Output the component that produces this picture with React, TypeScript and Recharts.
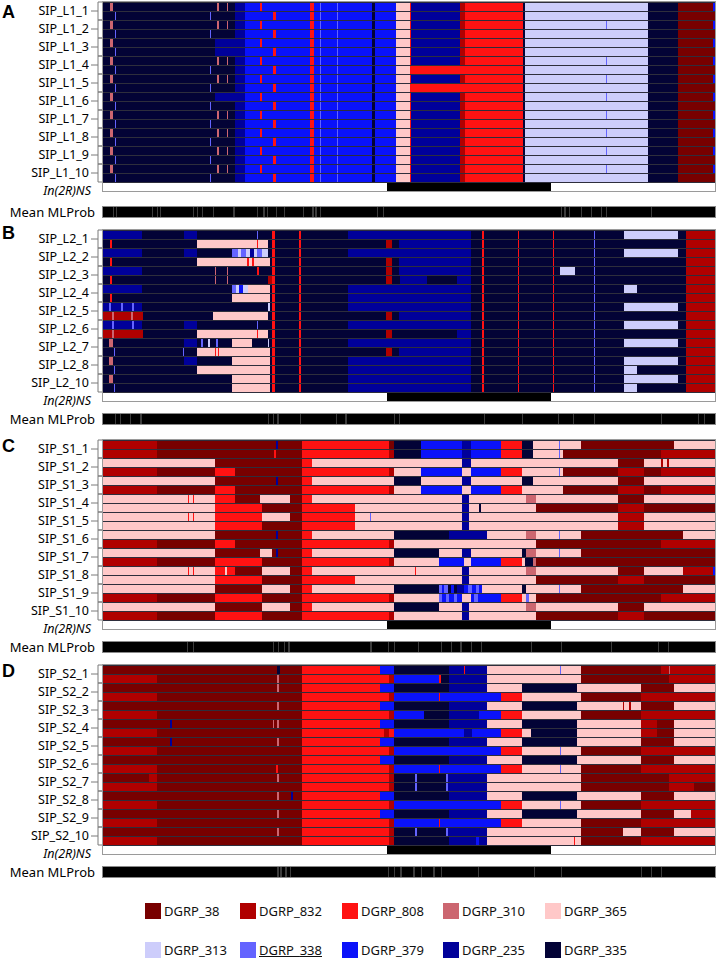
import React from "react";
import { BarChart, Bar, XAxis, YAxis, Cell, CartesianGrid } from "recharts";

// haplotype codes -> colours (legend order)
const LEGEND_ROW_1 = ["38", "832", "808", "310", "365"];
const LEGEND_ROW_2 = ["313", "338", "379", "235", "335"];
const COLORS: Record<string, string> = {
  "38": "#780000",
  "832": "#b00000",
  "808": "#ff1212",
  "310": "#cc6670",
  "365": "#ffc8c8",
  "313": "#cdcdfb",
  "338": "#6464ff",
  "379": "#0a12fa",
  "235": "#00009a",
  "335": "#030336",
  w: "#ffffff",
  k: "#000000",
  g: "#3c3c3c",
};

// segments are "haplotype:end" with end in % of the plotted 2R region
const INVERSION_LABEL = "In(2R)NS";
const INVERSION = "w:46.4 k:73.2 w:100";

// ---------- panel A ----------
const A_NAMES = ["SIP_L1_1", "SIP_L1_2", "SIP_L1_3", "SIP_L1_4", "SIP_L1_5", "SIP_L1_6", "SIP_L1_7", "SIP_L1_8", "SIP_L1_9", "SIP_L1_10"];
const A_ROWS = [
  "335:1.15 310:1.64 335:18.7 310:18.9 335:20.3 310:20.5 335:21.6 235:23.2 379:25.7 808:25.9 379:33.9 808:34.4 379:35.4 338:35.6 379:38.2 338:38.4 379:44.0 335:44.4 379:47.9 365:50.1 808:50.4 235:58.4 832:59.2 808:68.6 335:68.9 313:89.0 335:93.9 38:99.6 379:100",
  "335:1.96 338:2.2 335:17.5 338:17.7 335:21.6 235:23.2 379:27.8 808:28.2 379:33.9 808:34.4 379:35.4 338:35.6 379:38.2 338:38.4 379:44.0 335:44.4 379:47.9 365:50.1 808:50.4 235:58.4 832:59.2 808:68.6 335:68.9 313:89.0 335:93.9 38:100",
  "335:1.15 310:1.64 335:18.7 310:18.9 335:20.3 310:20.5 335:21.6 235:23.2 379:25.7 808:25.9 379:33.9 808:34.4 379:35.4 338:35.6 379:38.2 338:38.4 379:44.0 335:44.4 379:47.9 365:50.1 808:50.4 235:58.4 832:59.2 808:68.6 335:68.9 313:82.2 338:82.4 313:89.0 335:93.9 38:99.6 379:100",
  "335:1.96 338:2.2 335:17.5 338:17.7 335:21.6 235:23.2 379:27.8 808:28.2 379:33.9 808:34.4 379:35.4 338:35.6 379:38.2 338:38.4 379:44.0 335:44.4 379:47.9 365:50.1 808:50.4 235:58.4 832:59.2 808:68.6 335:68.9 313:89.0 335:93.9 38:100",
  "335:1.15 310:1.64 335:18.3 235:23.2 379:25.7 808:25.9 379:33.9 808:34.4 379:35.4 338:35.6 379:38.2 338:38.4 379:44.0 335:44.4 379:47.9 365:50.1 808:50.4 235:58.4 832:59.2 808:68.6 335:68.9 313:89.0 335:93.9 38:99.6 379:100",
  "335:1.96 338:2.2 335:18.3 235:23.2 379:27.8 808:28.2 379:33.9 808:34.4 379:35.4 338:35.6 379:38.2 338:38.4 379:44.0 335:44.4 379:47.9 365:50.1 808:50.4 235:58.4 832:59.2 808:68.6 335:68.9 313:89.0 335:93.9 38:100",
  "335:1.15 310:1.64 335:18.7 310:18.9 335:20.3 310:20.5 335:21.6 235:23.2 379:25.7 808:25.9 379:33.9 808:34.4 379:35.4 338:35.6 379:38.2 338:38.4 379:44.0 335:44.4 379:47.9 365:50.1 808:50.4 235:58.4 832:59.2 808:68.6 335:68.9 313:82.2 338:82.4 313:89.0 335:93.9 38:99.6 379:100",
  "335:1.96 338:2.2 335:17.5 338:17.7 335:21.6 235:23.2 379:27.8 808:28.2 379:33.9 808:34.4 379:35.4 338:35.6 379:38.2 338:38.4 379:44.0 335:44.4 379:47.9 365:50.1 808:59.2 808:68.6 335:68.9 313:89.0 335:93.9 38:100",
  "335:1.15 310:1.64 335:18.7 310:18.9 335:20.3 310:20.5 335:21.6 235:23.2 379:25.7 808:25.9 379:33.9 808:34.4 379:35.4 338:35.6 379:38.2 338:38.4 379:44.0 335:44.4 379:47.9 365:50.1 808:50.4 235:58.4 832:59.2 808:68.6 335:68.9 313:82.2 338:82.4 313:89.0 335:93.9 38:99.6 379:100",
  "335:1.96 338:2.2 335:17.5 338:17.7 335:21.6 235:23.2 379:27.8 808:28.2 379:33.9 808:34.4 379:35.4 338:35.6 379:38.2 338:38.4 379:44.0 335:44.4 379:47.9 365:50.1 808:59.2 808:68.6 335:68.9 313:89.0 335:93.9 38:100",
  "335:1.15 310:1.64 335:18.3 235:23.2 379:25.7 808:25.9 379:33.9 808:34.4 379:35.4 338:35.6 379:38.2 338:38.4 379:44.0 335:44.4 379:47.9 365:50.1 808:50.4 235:58.4 832:59.2 808:68.6 335:68.9 313:82.2 338:82.4 313:89.0 335:93.9 38:99.6 379:100",
  "335:1.96 338:2.2 335:17.5 338:17.7 335:21.6 235:23.2 379:27.8 808:28.2 379:33.9 808:34.4 379:35.4 338:35.6 379:38.2 338:38.4 379:44.0 335:44.4 379:47.9 365:50.1 808:50.4 235:58.4 832:59.2 808:68.6 335:68.9 313:89.0 335:93.9 38:100",
  "335:1.15 310:1.64 335:18.7 310:18.9 335:20.3 310:20.5 335:21.6 235:23.2 379:25.7 808:25.9 379:33.9 808:34.4 379:35.4 338:35.6 379:38.2 338:38.4 379:44.0 335:44.4 379:47.9 365:50.1 808:50.4 235:58.4 832:59.2 808:68.6 335:68.9 313:82.2 338:82.4 313:89.0 335:93.9 38:99.6 379:100",
  "335:1.96 338:2.2 335:17.5 338:17.7 335:21.6 235:23.2 379:27.8 808:28.2 379:33.9 808:34.4 379:35.4 338:35.6 379:38.2 338:38.4 379:44.0 335:44.4 379:47.9 365:50.1 808:50.4 235:58.4 832:59.2 808:68.6 335:68.9 313:89.0 335:93.9 38:100",
  "335:1.15 310:1.64 335:18.7 310:18.9 335:20.3 310:20.5 335:21.6 235:23.2 379:25.7 808:25.9 379:33.9 808:34.4 379:35.4 338:35.6 379:38.2 338:38.4 379:44.0 335:44.4 379:47.9 365:50.1 808:50.4 235:58.4 832:59.2 808:68.6 335:68.9 313:82.2 338:82.4 313:89.0 335:93.9 38:99.6 379:100",
  "335:1.96 338:2.2 335:17.5 338:17.7 335:21.6 235:23.2 379:27.8 808:28.2 379:33.9 808:34.4 379:35.4 338:35.6 379:38.2 338:38.4 379:44.0 335:44.4 379:47.9 365:50.1 808:50.4 235:58.4 832:59.2 808:68.6 335:68.9 313:89.0 335:93.9 38:100",
  "335:1.15 310:1.64 335:18.7 310:18.9 335:20.3 310:20.5 335:21.6 235:23.2 379:25.7 808:25.9 379:33.9 808:34.4 379:35.4 338:35.6 379:38.2 338:38.4 379:44.0 335:44.4 379:47.9 365:50.1 808:50.4 235:58.4 832:59.2 808:68.6 335:68.9 313:82.2 338:82.4 313:89.0 335:93.9 38:99.6 379:100",
  "335:1.96 338:2.2 335:17.5 338:17.7 335:21.6 235:23.2 379:27.8 808:28.2 379:33.9 808:34.4 379:35.4 338:35.6 379:38.2 338:38.4 379:44.0 335:44.4 379:47.9 365:50.1 808:50.4 235:58.4 832:59.2 808:68.6 335:68.9 313:89.0 335:93.9 38:100",
  "335:1.15 310:1.64 335:18.7 310:18.9 335:20.3 310:20.5 335:21.6 235:23.2 379:25.7 808:25.9 379:33.9 808:34.4 379:35.4 338:35.6 379:38.2 338:38.4 379:44.0 335:44.4 379:47.9 365:50.1 808:50.4 235:58.4 832:59.2 808:68.6 335:68.9 313:82.2 338:82.4 313:89.0 335:93.9 38:99.6 379:100",
  "335:1.96 338:2.2 335:17.5 338:17.7 335:21.6 235:23.2 379:27.8 808:28.2 379:33.9 808:34.4 379:35.4 338:35.6 379:38.2 338:38.4 379:44.0 335:44.4 379:47.9 365:50.1 808:50.4 235:58.4 832:59.2 808:68.6 335:68.9 313:89.0 335:93.9 38:100",
];
const A_MLPROB = [1.6, 2.1, 8.0, 8.8, 9.3, 14.7, 15.4, 16.2, 18.0, 21.3, 25.2, 26.2, 26.8, 28.2, 29.5, 32.6, 34.2, 34.7, 35.5, 44.8, 45.7, 74.8, 75.4, 76.1, 78.1, 79.7, 81.3, 82.2, 89.5];

// ---------- panel B ----------
const B_NAMES = ["SIP_L2_1", "SIP_L2_2", "SIP_L2_3", "SIP_L2_4", "SIP_L2_5", "SIP_L2_6", "SIP_L2_7", "SIP_L2_8", "SIP_L2_10"];
const B_CORE = "808:28.15 335:32.1 808:32.4";
const B_MID_BLUE = "335:40.1 235:60.1";
const B_MID_RED = "335:46.3 832:47.25 335:48.3 235:60.1";
const B_MID_SPLIT = "335:46.3 832:47.25 335:48.6 235:53.0 335:57.9 235:60.1";
const B_MID_DARK = "335:46.3 832:47.25 335:57.9 235:60.1";
const B_TAIL_FULL = "335:62.0 808:62.2 335:67.8 808:68.0 335:73.5 808:73.7 335:80.2 338:80.4 335:85.2 313:93.9 335:95.2 832:100";
const B_TAIL_SHORT = "335:62.0 808:62.2 335:67.8 808:68.0 335:73.5 808:73.7 335:80.2 338:80.4 335:85.2 313:87.2 335:95.2 832:100";
const B_TAIL_NONE = "335:62.0 808:62.2 335:67.8 808:68.0 335:73.5 808:73.7 335:80.2 338:80.4 335:95.2 832:100";
const B_TAIL_MID = "335:62.0 808:62.2 335:67.8 808:68.0 335:73.5 808:73.7 335:74.7 313:77.1 335:80.2 338:80.4 335:95.2 832:100";
const B_ROWS = [
  `235:6.38 335:13.26 235:15.38 335:25.2 338:25.4 335:27.66 ${B_CORE} ${B_MID_BLUE} ${B_TAIL_FULL}`,
  `335:1.15 808:1.4 335:15.38 365:25.2 808:25.4 365:27.0 335:27.66 ${B_CORE} ${B_MID_RED} ${B_TAIL_NONE}`,
  `235:6.38 335:13.26 235:15.38 335:21.1 338:22.0 313:22.6 338:23.4 313:24.0 235:24.6 313:25.2 338:26.0 313:27.0 335:27.66 ${B_CORE} ${B_MID_BLUE} ${B_TAIL_FULL}`,
  `335:1.15 808:1.4 335:15.38 365:23.6 808:23.8 365:24.4 808:24.6 365:27.3 335:27.66 ${B_CORE} ${B_MID_RED} ${B_TAIL_NONE}`,
  `235:6.38 335:18.3 310:18.5 335:20.3 310:20.5 335:25.2 808:25.5 335:27.66 ${B_CORE} ${B_MID_RED} ${B_TAIL_MID}`,
  `335:1.15 808:1.4 335:18.3 310:18.5 335:20.3 310:20.5 335:27.0 832:27.66 ${B_CORE} ${B_MID_SPLIT} ${B_TAIL_NONE}`,
  `235:6.38 335:21.1 338:21.7 313:22.3 379:22.8 313:23.7 365:27.3 335:27.66 ${B_CORE} ${B_MID_BLUE} ${B_TAIL_SHORT}`,
  `335:1.15 808:1.4 335:21.1 365:27.3 335:27.66 ${B_CORE} ${B_MID_BLUE} ${B_TAIL_NONE}`,
  `235:1.0 338:1.3 235:3.0 338:3.3 235:4.8 338:5.1 235:6.38 335:27.0 313:27.3 335:27.66 ${B_CORE} ${B_MID_BLUE} ${B_TAIL_FULL}`,
  `832:1.5 310:1.8 832:4.6 310:4.9 832:6.55 335:18.0 365:27.0 335:27.66 ${B_CORE} ${B_MID_RED} ${B_TAIL_NONE}`,
  `235:1.5 338:1.8 235:4.8 338:5.1 235:6.38 335:13.26 235:15.38 335:25.2 338:25.4 335:27.66 ${B_CORE} ${B_MID_BLUE} ${B_TAIL_FULL}`,
  `832:1.5 310:1.8 832:6.55 335:15.38 365:25.2 808:25.4 365:27.0 335:27.66 ${B_CORE} ${B_MID_DARK} ${B_TAIL_NONE}`,
  `335:0.98 310:1.64 335:13.26 235:15.38 335:16.0 338:16.3 335:17.2 313:17.5 335:18.5 338:18.8 335:21.1 365:24.4 335:27.0 313:27.2 335:27.66 ${B_CORE} ${B_MID_BLUE} ${B_TAIL_FULL}`,
  `335:1.8 338:2.0 335:13.0 338:13.3 335:15.38 365:18.3 808:18.5 365:18.8 808:19.0 365:27.3 335:27.66 ${B_CORE} ${B_MID_RED} ${B_TAIL_NONE}`,
  `335:0.98 310:1.64 335:13.26 235:15.38 335:21.1 365:27.3 335:27.66 ${B_CORE} ${B_MID_BLUE} ${B_TAIL_FULL}`,
  `335:1.8 338:2.0 335:15.38 365:27.3 335:27.66 ${B_CORE} ${B_MID_BLUE} ${B_TAIL_SHORT}`,
  `335:0.98 310:1.64 335:21.1 365:27.3 335:27.66 ${B_CORE} ${B_MID_BLUE} ${B_TAIL_FULL}`,
  `335:1.8 338:2.0 335:21.1 365:27.3 335:27.66 ${B_CORE} ${B_MID_BLUE} ${B_TAIL_SHORT}`,
];
const B_MLPROB = [2.0, 2.8, 4.4, 6.1, 27.0, 27.8, 28.5, 32.2, 38.0, 39.6, 47.5, 48.3, 62.2, 68.4, 74.3, 76.8, 80.2, 91.2, 97.2, 98.2];

// ---------- panel C ----------
const C_NAMES = ["SIP_S1_1", "SIP_S1_2", "SIP_S1_3", "SIP_S1_4", "SIP_S1_5", "SIP_S1_6", "SIP_S1_7", "SIP_S1_8", "SIP_S1_9", "SIP_S1_10"];
const C_ROWS = [
  "832:8.84 38:28.3 235:28.6 38:32.57 808:46.7 38:47.5 335:51.9 379:58.7 235:60.1 379:65.0 808:68.5 335:70.2 365:74.5 338:74.7 365:78.1 38:93.3 365:100",
  "832:8.84 38:28.0 808:28.3 38:32.57 808:46.7 832:47.5 335:51.9 379:58.7 235:60.1 379:65.0 808:68.5 335:70.2 365:74.5 338:74.7 365:75.1 38:91.2 832:100",
  "365:18.33 38:32.57 808:34.2 365:58.7 235:60.1 365:84.1 38:88.4 365:91.2 832:91.5 365:92.2 832:92.5 365:100",
  "832:8.84 38:18.33 808:21.6 38:32.57 808:46.7 832:47.5 365:51.9 379:58.7 365:60.1 379:65.0 808:68.5 365:74.5 338:74.7 365:75.1 38:84.1 832:88.4 38:91.2 832:100",
  "365:18.33 38:28.3 235:28.6 38:32.57 808:34.2 365:47.5 335:51.9 365:58.7 235:60.1 365:68.5 335:70.2 365:84.1 38:88.4 365:100",
  "832:8.84 38:18.33 808:21.6 38:32.57 808:46.7 832:47.5 365:51.9 379:58.7 365:60.1 379:65.0 808:68.5 365:75.1 38:84.1 832:88.4 38:91.2 832:100",
  "365:13.9 808:14.1 365:14.7 808:14.9 365:18.33 808:21.6 38:25.7 365:30.6 38:32.57 808:34.2 365:58.7 235:59.8 365:69.1 310:70.7 365:84.1 38:88.4 365:100",
  "365:18.33 808:26.0 38:32.57 808:41.2 365:58.7 235:59.8 365:61.4 335:61.7 365:70.7 38:84.1 832:88.4 38:100",
  "365:13.9 808:14.1 365:14.7 808:14.9 365:18.33 808:26.0 365:30.6 38:32.57 808:41.2 365:43.6 338:43.8 365:58.7 235:59.8 365:84.1 832:88.4 365:100",
  "365:18.33 808:26.0 38:32.57 808:41.2 365:58.7 235:59.8 365:84.1 832:88.4 365:100",
  "365:18.33 38:28.3 235:28.6 38:32.57 808:34.2 365:47.5 335:56.5 235:62.8 365:69.1 310:70.7 365:74.5 338:74.7 365:78.1 38:94.7 365:100",
  "832:8.84 38:18.33 808:21.6 38:32.57 808:46.7 832:47.5 365:70.7 38:91.2 832:100",
  "365:18.33 38:25.7 365:27.66 38:28.3 235:28.6 38:32.57 808:34.2 365:47.5 335:54.9 365:58.7 235:60.1 365:68.5 335:69.1 310:70.7 365:74.5 338:74.7 365:78.1 38:100",
  "832:8.84 38:18.33 808:26.0 38:32.57 808:46.7 832:47.5 365:54.9 379:59.0 365:60.1 379:65.0 808:68.5 365:69.0 335:70.2 310:70.7 38:100",
  "365:13.9 808:14.1 365:14.7 808:14.9 365:18.33 808:19.97 365:20.3 808:21.6 38:26.0 365:30.6 38:32.57 808:34.2 365:51.0 808:51.2 365:58.7 235:59.8 365:69.1 310:70.7 365:84.1 38:88.4 365:94.7 832:99.6 379:100",
  "365:18.33 808:26.0 38:32.57 808:41.2 365:58.7 235:59.8 365:70.7 38:84.1 832:88.4 38:100",
  "365:18.33 38:26.0 365:30.6 38:32.57 808:34.2 365:47.5 335:54.9 338:55.4 379:55.8 338:56.3 335:56.8 379:57.3 335:57.9 235:59.0 379:59.6 338:60.3 379:60.9 338:61.5 379:62.0 365:68.5 335:69.1 365:74.5 338:74.7 365:78.1 38:94.7 365:100",
  "832:8.84 38:18.33 808:26.0 38:32.57 808:46.7 832:47.5 365:54.9 338:55.4 379:56.0 338:56.6 379:57.3 338:57.9 379:58.7 365:60.1 379:60.6 338:61.2 379:65.0 808:68.5 365:69.1 338:69.6 365:70.7 38:91.2 832:100",
  "365:18.33 38:26.0 365:30.6 38:32.57 808:34.2 365:47.5 335:54.9 365:58.7 235:59.8 365:69.1 310:70.7 365:84.1 38:88.4 365:100",
  "832:8.84 38:18.33 808:26.0 38:32.57 808:46.7 832:47.5 365:58.7 235:59.8 365:70.7 38:84.1 832:88.4 38:100",
];
const C_MLPROB = [13.7, 14.7, 27.8, 28.6, 29.5, 30.3, 43.7, 46.5, 47.5, 51.4, 55.2, 56.8, 58.4, 60.1, 61.7, 69.9, 74.8, 83.0, 90.7, 92.3];

// ---------- panel D ----------
const D_NAMES = ["SIP_S2_1", "SIP_S2_2", "SIP_S2_3", "SIP_S2_4", "SIP_S2_5", "SIP_S2_6", "SIP_S2_7", "SIP_S2_8", "SIP_S2_9", "SIP_S2_10"];
const D_ROWS = [
  "38:28.4 335:28.9 38:32.57 808:45.3 379:47.5 335:56.5 235:59.0 808:59.2 235:62.8 365:74.7 338:74.9 365:78.1 38:91.2 832:92.5 310:92.7 832:100",
  "832:8.84 38:28.5 310:28.7 38:32.57 808:46.7 832:47.5 379:54.9 808:55.2 335:56.5 235:62.8 365:78.1 38:92.5 832:100",
  "38:28.5 310:28.7 38:32.57 808:45.3 379:47.5 335:56.5 235:62.8 365:68.5 335:77.5 365:87.9 38:93.3 365:100",
  "832:8.84 38:32.57 808:46.7 832:47.5 379:54.9 808:55.1 379:65.0 808:68.5 365:78.1 38:87.9 832:100",
  "38:28.5 310:28.7 38:32.57 808:45.3 379:47.5 335:56.5 235:62.8 365:68.5 335:77.5 365:84.9 832:85.2 365:85.9 832:86.2 365:87.9 38:93.3 365:100",
  "832:8.84 38:32.57 808:46.7 832:47.5 379:52.4 335:56.5 235:61.4 379:65.0 808:68.5 365:78.1 38:87.9 832:100",
  "38:10.9 235:11.3 38:27.7 310:28.0 38:28.5 310:28.7 38:32.57 808:45.3 379:47.5 335:56.5 235:62.8 365:68.5 335:77.5 365:87.9 832:90.6 38:93.3 365:100",
  "832:8.84 38:32.57 808:45.9 832:46.7 808:47.5 379:59.0 235:60.3 379:65.0 808:68.5 365:69.9 335:77.5 365:87.9 832:90.6 38:93.3 365:100",
  "38:10.9 235:11.3 38:28.5 310:28.7 38:32.57 808:45.3 379:47.5 335:56.5 235:62.8 365:68.5 335:77.5 365:87.9 38:93.3 365:100",
  "832:8.84 38:32.57 808:46.7 832:47.5 379:65.0 808:68.5 365:74.7 338:74.9 365:78.1 38:87.9 832:100",
  "38:32.57 808:45.3 379:47.5 335:56.5 235:62.8 365:68.5 335:77.5 365:87.9 38:93.3 365:100",
  "832:8.84 38:28.3 808:28.6 38:32.57 808:46.7 832:47.5 379:54.9 808:55.1 379:65.0 808:68.5 365:74.7 338:74.9 365:78.1 38:87.9 832:100",
  "38:7.5 832:8.84 38:28.5 310:28.7 38:32.57 808:46.7 832:47.5 335:51.0 338:51.3 335:56.0 338:56.3 235:62.8 365:78.1 38:92.5 832:100",
  "832:8.84 38:32.57 808:46.7 832:47.5 335:51.0 338:51.3 335:56.0 338:56.3 235:62.8 365:78.1 38:92.5 832:96.6 38:100",
  "38:28.5 310:28.7 38:30.8 235:31.1 38:32.57 808:45.3 379:47.5 335:56.5 235:62.8 365:68.5 335:77.5 365:87.9 38:93.3 365:100",
  "832:8.84 38:32.57 808:46.7 832:47.5 379:65.0 808:68.5 365:74.7 338:74.9 365:78.1 38:87.9 832:100",
  "38:28.5 310:28.7 38:32.57 808:45.3 379:47.5 335:56.5 235:62.8 365:68.5 335:77.5 365:87.9 38:93.3 365:96.1 832:100",
  "832:8.84 38:32.57 808:46.7 832:47.5 379:54.9 808:55.1 379:65.0 808:68.5 365:78.1 38:87.9 832:100",
  "38:28.5 310:28.7 38:32.57 808:46.7 832:47.5 335:51.0 338:51.3 335:56.0 338:56.3 235:62.8 365:78.1 38:84.9 365:87.9 38:93.3 365:100",
  "832:8.84 38:32.57 808:46.7 832:47.5 335:56.5 235:61.0 379:61.4 235:62.8 365:77.0 808:77.2 365:78.1 38:87.9 832:100",
];
const D_MLPROB = [28.5, 29.0, 29.8, 30.6, 46.5, 47.5, 48.6, 50.7, 51.9, 54.0, 55.2, 61.2, 70.4, 74.8, 87.9, 89.5, 91.2];

const FONT = "'Noto Sans', 'Open Sans', sans-serif";
const ROW_H = 9;
const CHART_W = 721;
const AXIS_W = 103;

type Seg = { code: string; end: number };
const parseSegs = (s: string): Seg[] =>
  s.trim().split(/\s+/).map((t) => {
    const [code, end] = t.split(":");
    return { code, end: Number(end) };
  });

// stacked widths: each segment becomes s{i} (length) + c{i} (colour code)
function buildTable(entries: { id: string; segs: Seg[] }[]) {
  const maxSeg = Math.max(...entries.map((e) => e.segs.length));
  const table = entries.map((e) => {
    const row: Record<string, any> = { id: e.id };
    let prev = 0;
    for (let i = 0; i < maxSeg; i++) {
      const g = e.segs[i];
      row[`s${i}`] = g ? Math.max(0, g.end - prev) : 0;
      row[`c${i}`] = g ? g.code : "w";
      if (g) prev = g.end;
    }
    return row;
  });
  return { table, maxSeg };
}

function mlSegs(streaks: number[]): Seg[] {
  const out: Seg[] = [];
  streaks.forEach((p) => {
    out.push({ code: "k", end: p });
    out.push({ code: "g", end: p + 0.2 });
  });
  out.push({ code: "k", end: 100 });
  return out;
}

const RowTick = (props: any) => {
  const { y, payload } = props;
  const [name, part] = String(payload.value).split("|");
  if (part === "inv") {
    return (
      <text x={91} y={y} dy={8} textAnchor="end" fontStyle="italic" fontSize={12.5} fontFamily={FONT} fill="#000">
        {name}
      </text>
    );
  }
  const axis = "#7a7a7a";
  if (part === "a") {
    return (
      <g>
        <text x={89} y={y + ROW_H / 2} dy={4.3} textAnchor="end" fontSize={12.5} fontFamily={FONT} fill="#000">
          {name}
        </text>
        <line x1={91} x2={98} y1={y + ROW_H / 2} y2={y + ROW_H / 2} stroke={axis} />
        <line x1={98} x2={98} y1={y - ROW_H / 2} y2={y + ROW_H * 1.5} stroke={axis} />
        <line x1={98} x2={102} y1={y - ROW_H / 2} y2={y - ROW_H / 2} stroke={axis} />
      </g>
    );
  }
  return <line x1={98} x2={102} y1={y + ROW_H / 2} y2={y + ROW_H / 2} stroke={axis} />;
};

const MlTick = (props: any) => (
  <text x={95} y={props.y} dy={4.5} textAnchor="end" fontSize={13} fontFamily={FONT} fill="#000">
    {props.payload.value}
  </text>
);

function SegmentBars(maxSeg: number, table: Record<string, any>[]) {
  return Array.from({ length: maxSeg }, (_, i) => (
    <Bar key={i} dataKey={`s${i}`} stackId="h" isAnimationActive={false}>
      {table.map((r, j) => (
        <Cell key={j} fill={COLORS[r[`c${i}`]]} />
      ))}
    </Bar>
  ));
}

type PanelProps = { letter: string; top: number; letterY: number; mlTop: number; names: string[]; rows: string[]; ml: number[] };

function Panel({ letter, top, letterY, mlTop, names, rows, ml }: PanelProps) {
  const entries = rows.map((r, i) => ({
    id: `${names[Math.floor(i / 2)]}|${i % 2 === 0 ? "a" : "b"}`,
    segs: parseSegs(r),
  }));
  entries.push({ id: `${INVERSION_LABEL}|inv`, segs: parseSegs(INVERSION) });
  const { table, maxSeg } = buildTable(entries);
  const height = entries.length * ROW_H;

  const mlData = buildTable([{ id: "Mean MLProb", segs: mlSegs(ml) }]);

  return (
    <>
      <div style={{ position: "absolute", left: 2, top: letterY - 15, fontFamily: "'Liberation Sans', Arial, sans-serif", fontWeight: 700, fontSize: 18, lineHeight: "18px" }}>
        {letter}
      </div>
      <div style={{ position: "absolute", left: 0, top }}>
        <BarChart width={CHART_W} height={height} data={table} layout="vertical" barCategoryGap={0.5} margin={{ top: 0, right: 6, bottom: 0, left: 0 }}>
          <CartesianGrid horizontal={false} vertical={false} fill="#2e2e3c" />
          <XAxis type="number" domain={[0, 100]} hide />
          <YAxis type="category" dataKey="id" width={AXIS_W} axisLine={false} tickLine={false} interval={0} tick={<RowTick />} />
          {SegmentBars(maxSeg, table)}
        </BarChart>
        <div style={{ position: "absolute", left: AXIS_W - 1, top: -1, width: CHART_W - AXIS_W - 6, height: height, border: "1px solid #9a9a9a", pointerEvents: "none" }} />
      </div>
      <div style={{ position: "absolute", left: 0, top: mlTop }}>
        <BarChart width={CHART_W} height={10} data={mlData.table} layout="vertical" barCategoryGap={0} margin={{ top: 0, right: 6, bottom: 0, left: 0 }}>
          <XAxis type="number" domain={[0, 100]} hide />
          <YAxis type="category" dataKey="id" width={AXIS_W} axisLine={false} tickLine={false} interval={0} tick={<MlTick />} />
          {SegmentBars(mlData.maxSeg, mlData.table)}
        </BarChart>
        <div style={{ position: "absolute", left: AXIS_W - 1, top: -1, width: CHART_W - AXIS_W - 6, height: 10, border: "1px solid #8a8a8a", pointerEvents: "none" }} />
      </div>
    </>
  );
}

const LEGEND_X = [145, 240, 342, 443, 545];
const LEGEND_Y = [903, 942];

function Legend() {
  const rows = [LEGEND_ROW_1, LEGEND_ROW_2];
  return (
    <>
      {rows.map((codes, ri) =>
        codes.map((c, ci) => (
          <div key={`${ri}-${ci}`} style={{ position: "absolute", left: LEGEND_X[ci], top: LEGEND_Y[ri], display: "flex", alignItems: "center", height: 16 }}>
            <div style={{ width: 16, height: 16, background: COLORS[c] }} />
            <span style={{ marginLeft: 3, fontFamily: FONT, fontSize: 13, color: "#111", textDecoration: c === "338" ? "underline" : "none" }}>
              DGRP_{c}
            </span>
          </div>
        ))
      )}
    </>
  );
}

export default function App() {
  return (
    <div style={{ position: "relative", width: 721, height: 960, background: "#fff", overflow: "hidden" }}>
      <style>{"body{margin:0} .recharts-rectangle{shape-rendering:crispEdges} .recharts-wrapper, .recharts-surface{overflow:visible !important}"}</style>
      <Panel letter="A" top={2} letterY={18} mlTop={207} names={A_NAMES} rows={A_ROWS} ml={A_MLPROB} />
      <Panel letter="B" top={230} letterY={239} mlTop={414} names={B_NAMES} rows={B_ROWS} ml={B_MLPROB} />
      <Panel letter="C" top={440} letterY={452} mlTop={642} names={C_NAMES} rows={C_ROWS} ml={C_MLPROB} />
      <Panel letter="D" top={665} letterY={677} mlTop={867} names={D_NAMES} rows={D_ROWS} ml={D_MLPROB} />
      <Legend />
    </div>
  );
}
